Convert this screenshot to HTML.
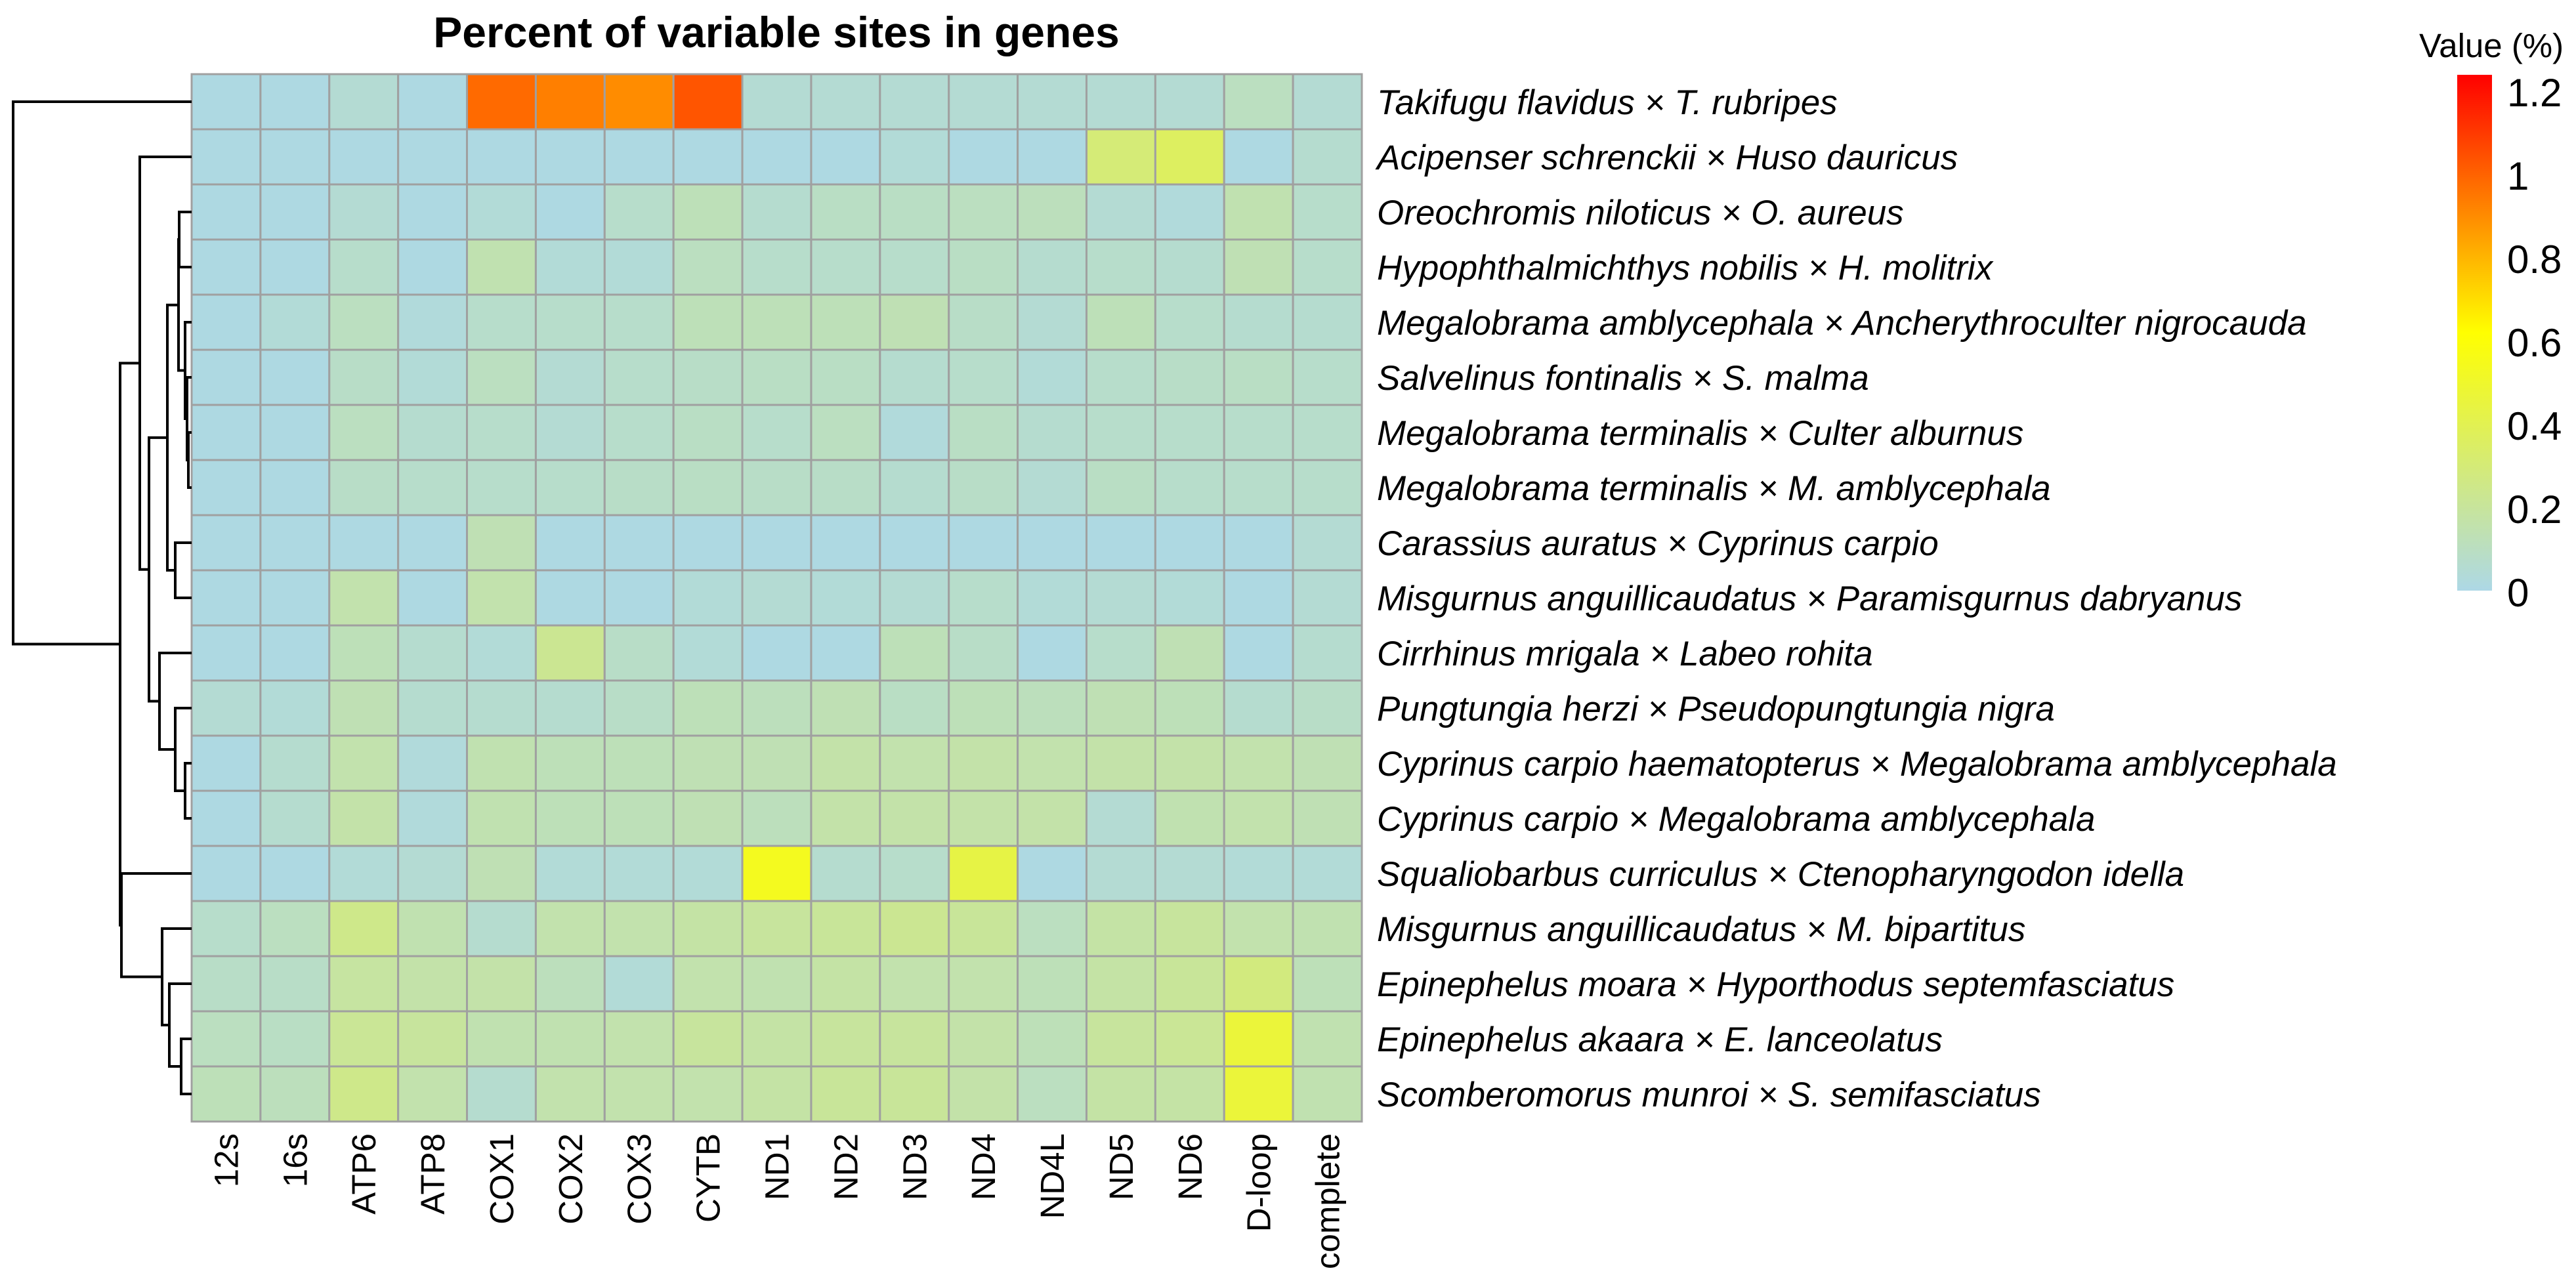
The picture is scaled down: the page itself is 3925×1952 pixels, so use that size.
<!DOCTYPE html>
<html><head><meta charset="utf-8"><style>
html,body{margin:0;padding:0;background:#fff;}
svg{display:block;font-family:"Liberation Sans",Arial,sans-serif;}
</style></head><body>
<svg id="chart" width="3925" height="1952" viewBox="0 0 3925 1952" xmlns="http://www.w3.org/2000/svg">
<defs><linearGradient id="lg" x1="0" y1="1" x2="0" y2="0">
<stop offset="0" stop-color="#ADD8E6"/><stop offset="0.5" stop-color="#FFFF00"/><stop offset="1" stop-color="#FF0000"/></linearGradient></defs>
<text x="1183" y="72" text-anchor="middle" font-size="66" font-weight="bold">Percent of variable sites in genes</text>
<g id="cells"></g>
<g id="dendro"></g>
<g id="rowlabels"></g>
<g id="collabels"></g>
<g id="legend">
<text x="3686" y="87" font-size="51">Value (%)</text>
<rect x="3744" y="114" width="53" height="786" fill="url(#lg)"/>
</g>
</svg>
<script>
const genes = ["12s","16s","ATP6","ATP8","COX1","COX2","COX3","CYTB","ND1","ND2","ND3","ND4","ND4L","ND5","ND6","D-loop","complete"];
const species = [
"Takifugu flavidus × T. rubripes",
"Acipenser schrenckii × Huso dauricus",
"Oreochromis niloticus × O. aureus",
"Hypophthalmichthys nobilis × H. molitrix",
"Megalobrama amblycephala × Ancherythroculter nigrocauda",
"Salvelinus fontinalis × S. malma",
"Megalobrama terminalis × Culter alburnus",
"Megalobrama terminalis × M. amblycephala",
"Carassius auratus × Cyprinus carpio",
"Misgurnus anguillicaudatus × Paramisgurnus dabryanus",
"Cirrhinus mrigala × Labeo rohita",
"Pungtungia herzi × Pseudopungtungia nigra",
"Cyprinus carpio haematopterus × Megalobrama amblycephala",
"Cyprinus carpio × Megalobrama amblycephala",
"Squaliobarbus curriculus × Ctenopharyngodon idella",
"Misgurnus anguillicaudatus × M. bipartitus",
"Epinephelus moara × Hyporthodus septemfasciatus",
"Epinephelus akaara × E. lanceolatus",
"Scomberomorus munroi × S. semifasciatus"];
const values = [
[0.01,0.01,0.05,0.01,0.95,0.90,0.87,1.00,0.05,0.05,0.05,0.05,0.05,0.05,0.05,0.10,0.05],
[0.01,0.01,0.01,0.01,0.01,0.01,0.01,0.01,0.01,0.01,0.04,0.01,0.01,0.29,0.35,0.01,0.06],
[0.01,0.01,0.05,0.01,0.04,0.01,0.07,0.12,0.06,0.09,0.09,0.10,0.11,0.05,0.03,0.14,0.07],
[0.01,0.01,0.07,0.01,0.14,0.04,0.04,0.10,0.07,0.07,0.07,0.09,0.06,0.07,0.06,0.13,0.07],
[0.01,0.04,0.10,0.03,0.07,0.07,0.07,0.12,0.12,0.12,0.13,0.08,0.05,0.12,0.07,0.06,0.06],
[0.01,0.01,0.08,0.04,0.10,0.05,0.07,0.08,0.09,0.09,0.06,0.07,0.04,0.07,0.08,0.09,0.07],
[0.01,0.01,0.10,0.06,0.07,0.05,0.07,0.09,0.07,0.10,0.03,0.09,0.06,0.07,0.07,0.07,0.07],
[0.01,0.01,0.08,0.07,0.07,0.07,0.08,0.09,0.08,0.08,0.06,0.08,0.05,0.09,0.07,0.07,0.07],
[0.01,0.01,0.01,0.01,0.13,0.01,0.01,0.01,0.01,0.01,0.01,0.01,0.01,0.01,0.01,0.01,0.05],
[0.01,0.01,0.15,0.01,0.15,0.01,0.01,0.04,0.05,0.04,0.05,0.07,0.04,0.05,0.04,0.01,0.05],
[0.01,0.01,0.12,0.06,0.04,0.22,0.08,0.04,0.01,0.01,0.12,0.08,0.01,0.07,0.13,0.01,0.06],
[0.05,0.04,0.13,0.06,0.06,0.06,0.08,0.12,0.11,0.13,0.09,0.12,0.11,0.13,0.12,0.06,0.08],
[0.01,0.06,0.15,0.03,0.14,0.12,0.12,0.13,0.13,0.16,0.15,0.16,0.15,0.16,0.16,0.15,0.13],
[0.01,0.06,0.16,0.03,0.14,0.12,0.12,0.13,0.11,0.16,0.16,0.16,0.16,0.05,0.14,0.15,0.13],
[0.01,0.01,0.04,0.05,0.13,0.04,0.04,0.04,0.52,0.06,0.07,0.42,0.01,0.05,0.05,0.04,0.04],
[0.07,0.10,0.24,0.14,0.06,0.15,0.15,0.17,0.19,0.20,0.22,0.20,0.10,0.17,0.19,0.15,0.14],
[0.08,0.08,0.18,0.16,0.16,0.11,0.04,0.15,0.14,0.17,0.15,0.15,0.12,0.17,0.20,0.27,0.12],
[0.10,0.09,0.21,0.19,0.14,0.14,0.15,0.19,0.17,0.19,0.19,0.16,0.12,0.19,0.21,0.45,0.14],
[0.12,0.11,0.24,0.15,0.06,0.15,0.15,0.15,0.17,0.20,0.20,0.16,0.10,0.17,0.17,0.45,0.14]];
const legendTicks = [0,0.2,0.4,0.6,0.8,1,1.2];
const legendTickLabels = ["0","0.2","0.4","0.6","0.8","1","1.2"];
// dendrogram merges: leaves 0..18, merge k -> node 19+k
const mergeLeft  = [6,5,4,2,22,8,23,12,11,10,25,1,17,16,15,14,30,0];
const mergeRight = [7,19,20,3,21,9,24,13,26,27,28,29,18,31,32,33,34,35];
const mergeHeight= [5,7,10,19,20,25,37,10,25,49,65,79,16,34,45,107,109,272];

const NS="http://www.w3.org/2000/svg";
const X0=292,X1=2075,Y0=113,Y1=1709;
const cw=(X1-X0)/genes.length, ch=(Y1-Y0)/species.length;
const xCol=i=>X0+i*cw, yRow=j=>Y0+j*ch;
const dendX=h=>X0-h;
function color(v){
  const lb=[173,216,230],ye=[255,255,0],rd=[255,0,0];
  let a,b,t;
  if(v<=0.6){a=lb;b=ye;t=Math.max(0,v)/0.6;}else{a=ye;b=rd;t=Math.min(1,(v-0.6)/0.6);}
  return "rgb("+a.map((c,k)=>Math.round(c+(b[k]-c)*t)).join(",")+")";
}
function mk(tag,attrs,parent){const e=document.createElementNS(NS,tag);for(const k in attrs)e.setAttribute(k,attrs[k]);parent.appendChild(e);return e;}
const cells=document.getElementById("cells");
values.forEach((row,j)=>row.forEach((v,i)=>{
  const r=mk("rect",{x:xCol(i),y:yRow(j),width:cw,height:ch,fill:color(v),stroke:"#A0A0A0","stroke-width":3},cells);
  
  
}));
const rl=document.getElementById("rowlabels");
species.forEach((s,j)=>{
  const cy=yRow(j)+ch/2+19, x=2098;
  const t=mk("text",{x:x,y:cy,"font-size":53,"font-style":"italic"},rl);
  t.textContent=s;
  
  
});
const cl=document.getElementById("collabels");
genes.forEach((g,i)=>{
  const cx=xCol(i)+cw/2+18, y=1727;
  const t=mk("text",{x:cx,y:y,"font-size":51,"text-anchor":"end",transform:"rotate(-90 "+cx+" "+y+")"},cl);
  t.textContent=g;
  
  
});
// dendrogram
const dg=document.getElementById("dendro");
const nodeY={},nodeH={};
for(let j=0;j<species.length;j++){nodeY[j]=yRow(j)+ch/2;nodeH[j]=0;}
mergeLeft.forEach((l,k)=>{
  const r=mergeRight[k],h=mergeHeight[k],id=19+k;
  nodeY[id]=(nodeY[l]+nodeY[r])/2;nodeH[id]=h;
  const x=dendX(h);
  const d="M"+dendX(nodeH[l])+","+nodeY[l]+" H"+x+" V"+nodeY[r]+" H"+dendX(nodeH[r]);
  const p=mk("path",{d:d,fill:"none",stroke:"#000","stroke-width":4},dg);
  
  
});
// legend ticks
const lgd=document.getElementById("legend");
const ly=v=>902-v/1.2*(902-140);
legendTicks.forEach((v,k)=>{
  const t=mk("text",{x:3820,y:ly(v)+22,"font-size":60},lgd);
  t.textContent=legendTickLabels[k];
  
  
});
</script>
</body></html>
